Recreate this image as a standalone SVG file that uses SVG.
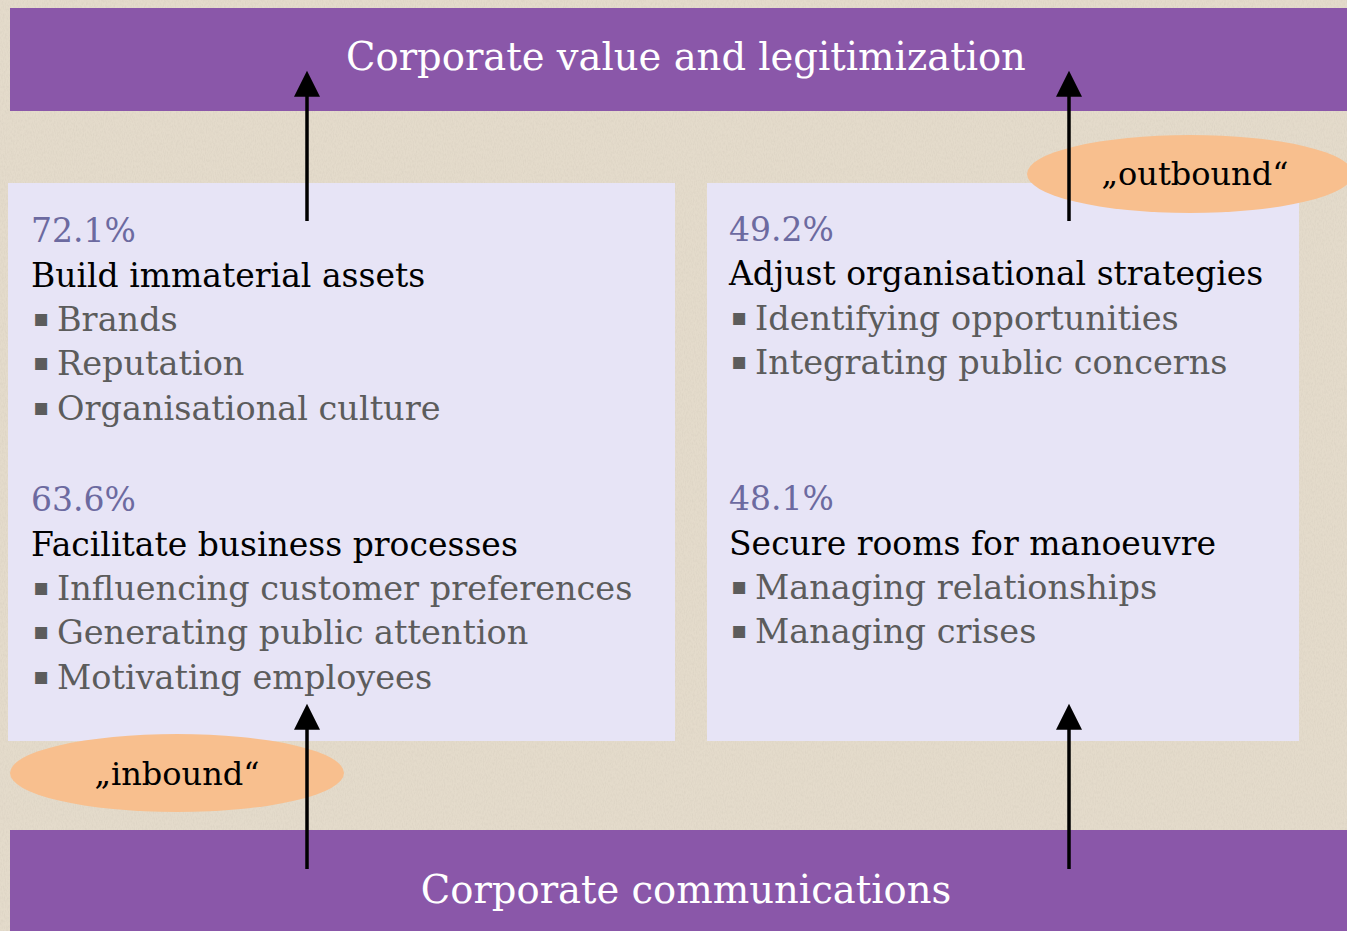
<svg xmlns="http://www.w3.org/2000/svg" width="1347" height="931" viewBox="0 0 1347 931">
<defs>
<marker id="ah" viewBox="0 0 10 10" refX="2.6" refY="5" markerWidth="27" markerHeight="26" markerUnits="userSpaceOnUse" orient="auto">
<path d="M0,0 L10,5 L0,10 z" fill="#000"/>
</marker>
<filter id="grain" x="0" y="0" width="100%" height="100%">
<feTurbulence type="fractalNoise" baseFrequency="0.9 0.35" numOctaves="2" seed="3"/>
<feColorMatrix type="matrix" values="0 0 0 0 0.55  0 0 0 0 0.5  0 0 0 0 0.42  0 0 0 -1.2 0.75"/>
</filter>
<style>
.bar{fill:#8a57a9}
.box{fill:#e7e4f6}
.oval{fill:#f8bf8e}
.t{font-family:"DejaVu Serif",serif}
.title{font-size:38.5px;fill:#fff;text-anchor:middle}
.pct{font-size:33px;fill:#6c6aa0}
.head{font-size:33px;fill:#000}
.item{font-size:33.5px;fill:#5c5c5c}
.bul{font-size:24px;fill:#5c5c5c}
.lab{font-size:32px;fill:#000;text-anchor:middle}
.conn{stroke:#000;stroke-width:3.5;fill:none}
</style>
</defs>
<rect width="1347" height="931" fill="#e4dbcb"/>
<rect width="1347" height="931" filter="url(#grain)" opacity="0.35"/>

<g id="top-bar">
<rect class="bar" x="10" y="8" width="1337" height="103"/>
<text class="t title" x="686" y="70">Corporate value and legitimization</text>
</g>

<g id="bottom-bar">
<rect class="bar" x="10" y="830" width="1337" height="101"/>
<text class="t title" x="686" y="903">Corporate communications</text>
</g>

<g id="left-box">
<rect class="box" x="8" y="183" width="667" height="558"/>
<text class="t pct" x="31" y="242">72.1%</text>
<text class="t head" x="31" y="287">Build immaterial assets</text>
<text class="t item" x="33" y="331"><tspan class="bul" dy="-5">▪</tspan><tspan x="57" dy="5">Brands</tspan></text>
<text class="t item" x="33" y="375"><tspan class="bul" dy="-5">▪</tspan><tspan x="57" dy="5">Reputation</tspan></text>
<text class="t item" x="33" y="420"><tspan class="bul" dy="-5">▪</tspan><tspan x="57" dy="5">Organisational culture</tspan></text>
<text class="t pct" x="31" y="511">63.6%</text>
<text class="t head" x="31" y="556">Facilitate business processes</text>
<text class="t item" x="33" y="600"><tspan class="bul" dy="-5">▪</tspan><tspan x="57" dy="5">Influencing customer preferences</tspan></text>
<text class="t item" x="33" y="644"><tspan class="bul" dy="-5">▪</tspan><tspan x="57" dy="5">Generating public attention</tspan></text>
<text class="t item" x="33" y="689"><tspan class="bul" dy="-5">▪</tspan><tspan x="57" dy="5">Motivating employees</tspan></text>
</g>

<g id="right-box">
<rect class="box" x="707" y="183" width="592" height="558"/>
<text class="t pct" x="729" y="241">49.2%</text>
<text class="t head" x="729" y="285">Adjust organisational strategies</text>
<text class="t item" x="731" y="330"><tspan class="bul" dy="-5">▪</tspan><tspan x="755" dy="5">Identifying opportunities</tspan></text>
<text class="t item" x="731" y="374"><tspan class="bul" dy="-5">▪</tspan><tspan x="755" dy="5">Integrating public concerns</tspan></text>
<text class="t pct" x="729" y="510">48.1%</text>
<text class="t head" x="729" y="555">Secure rooms for manoeuvre</text>
<text class="t item" x="731" y="599"><tspan class="bul" dy="-5">▪</tspan><tspan x="755" dy="5">Managing relationships</tspan></text>
<text class="t item" x="731" y="643"><tspan class="bul" dy="-5">▪</tspan><tspan x="755" dy="5">Managing crises</tspan></text>
</g>

<g id="outbound">
<ellipse class="oval" cx="1190" cy="174" rx="163" ry="39"/>
<text class="t lab" x="1195" y="185">„outbound“</text>
</g>

<g id="inbound">
<ellipse class="oval" cx="177" cy="773" rx="167" ry="39"/>
<text class="t lab" x="177" y="785">„inbound“</text>
</g>

<g id="connectors">
<line class="conn" x1="307" y1="221" x2="307" y2="90" marker-end="url(#ah)"/>
<line class="conn" x1="1069" y1="221" x2="1069" y2="90" marker-end="url(#ah)"/>
<line class="conn" x1="307" y1="869" x2="307" y2="723" marker-end="url(#ah)"/>
<line class="conn" x1="1069" y1="869" x2="1069" y2="723" marker-end="url(#ah)"/>
</g>
</svg>
